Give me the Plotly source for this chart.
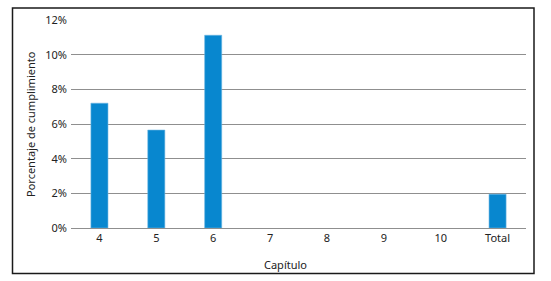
import plotly.graph_objects as go

categories = ["4", "5", "6", "7", "8", "9", "10", "Total"]
values = [7.2, 5.65, 11.12, None, None, None, None, 1.95]
y_ticks = [0, 2, 4, 6, 8, 10, 12]
y_tick_labels = ["0%", "2%", "4%", "6%", "8%", "10%", "12%"]

FONT = "Noto Sans"
W, H = 551, 281
L, R, T, B = 71, 25, 18, 53
pw = W - L - R
ph = H - T - B

def px_x(x):
    return (x - L) / pw

def px_y(y):
    return (H - B - y) / ph

fig = go.Figure()
fig.add_trace(go.Bar(
    x=categories, y=values,
    marker=dict(color="#0887CF", line=dict(color="#6BB6E3", width=0.6)),
    width=0.3,
))

fig.update_layout(
    width=W, height=H,
    margin=dict(l=L, r=R, t=T, b=B),
    paper_bgcolor="white", plot_bgcolor="white",
    font=dict(family=FONT, size=11, color="#222"),
    showlegend=False,
    xaxis=dict(
        type="category", range=[-0.5, 7.5], showgrid=False, zeroline=False,
        showline=False, ticks="", tickfont=dict(size=11, color="#222"),
        ticklabelstandoff=2,
    ),
    yaxis=dict(
        range=[0, 12], tickvals=y_ticks, ticktext=y_tick_labels,
        showgrid=True, gridcolor="#8f8f8f", gridwidth=1,
        zeroline=True, zerolinecolor="#8f8f8f", zerolinewidth=1,
        showline=False, ticks="", tickfont=dict(size=11, color="#222"),
        ticklabelstandoff=3,
    ),
    shapes=[dict(
        type="rect", xref="paper", yref="paper",
        x0=px_x(12.5), x1=px_x(534), y0=px_y(274), y1=px_y(6),
        line=dict(color="#1a1a1a", width=1.5), fillcolor="rgba(0,0,0,0)",
    )],
    annotations=[
        dict(text="Porcentaje de cumplimiento", xref="paper", yref="paper",
             x=px_x(30), y=px_y(123), textangle=-90, showarrow=False,
             font=dict(size=11, color="#222"), xanchor="center", yanchor="middle"),
        dict(text="Capítulo", xref="paper", yref="paper",
             x=px_x(285), y=px_y(265), showarrow=False,
             font=dict(size=11, color="#222"), xanchor="center", yanchor="middle"),
    ],
)

fig.write_html("out.html")
